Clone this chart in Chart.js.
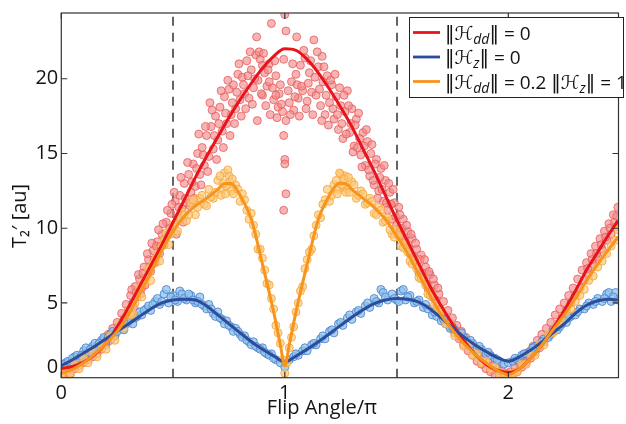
<!DOCTYPE html>
<html>
<head>
<meta charset="utf-8">
<script src="https://cdn.jsdelivr.net/npm/chart.js@4.4.1/dist/chart.umd.min.js"></script>
<style>
  html, body { margin: 0; padding: 0; background: #fff; }
  #wrap { width: 626px; height: 424px; }
</style>
</head>
<body>
<div id="wrap"><canvas id="t2Chart" width="626" height="424"></canvas></div>
<script>
// Axis ticks and the dashed guides at half-pi flips
const xTicks = [0, 1, 2];
const yTicks = [0, 5, 10, 15, 20];
const guideLines = [0.5, 1.5];

// Measured T2' for each case, [flip angle / pi, T2']
const redPoints = [
  [0.01,0.3],[0.02,0.9],[0.03,0.5],[0.04,0.2],[0.05,1.0],[0.06,0.6],[0.07,1.2],[0.08,0.8],[0.09,1.4],[0.10,1.0],
  [0.11,1.5],[0.12,1.2],[0.13,1.8],[0.14,1.4],[0.15,2.0],[0.16,1.6],[0.17,2.3],[0.18,1.9],[0.19,2.6],[0.20,2.2],
  [0.21,2.9],[0.22,2.5],[0.23,3.3],[0.24,2.8],[0.25,3.7],[0.26,3.4],[0.27,4.3],[0.28,3.9],[0.29,4.9],[0.30,4.5],
  [0.31,5.5],[0.32,5.0],[0.33,6.1],[0.34,5.4],[0.35,6.6],[0.36,6.0],[0.37,7.4],[0.38,6.7],[0.39,7.9],[0.40,7.1],
  [0.41,8.5],[0.42,7.7],[0.43,9.1],[0.44,8.3],[0.45,9.6],[0.46,8.9],[0.47,10.4],[0.48,9.6],[0.49,11.0],[0.50,10.1],
  [0.51,11.8],[0.52,10.6],[0.53,12.2],[0.54,11.3],[0.55,13.0],[0.56,11.7],[0.57,13.6],[0.58,12.4],[0.59,14.3],[0.60,12.8],
  [0.61,15.0],[0.62,13.6],[0.63,15.4],[0.64,14.2],[0.65,16.2],[0.66,14.8],[0.665,18.4],[0.67,16.8],[0.68,15.3],[0.69,17.5],
  [0.70,15.9],[0.71,18.1],[0.72,16.5],[0.73,18.8],[0.74,17.0],[0.75,19.3],[0.76,17.6],[0.77,19.6],[0.78,18.0],[0.79,20.3],
  [0.80,18.6],[0.81,20.1],[0.82,19.0],[0.83,21.2],[0.84,18.7],[0.85,20.6],[0.86,19.4],[0.87,21.6],[0.874,22.8],[0.877,17.2],
  [0.88,19.9],[0.89,21.3],[0.90,18.9],[0.91,20.4],[0.92,19.5],[0.93,21.0],[0.94,23.7],[0.95,18.6],[0.96,20.2],[0.97,18.1],
  [0.98,19.6],[1.0,24.3],[1.005,23.2],[0.995,21.3],[0.99,17.8],[1.005,17.2],[0.995,16.2],[1.0,14.6],[1.0,14.3],[1.005,12.3],
  [0.995,11.2],[1.02,18.4],[1.03,19.8],[1.04,17.9],[1.05,20.3],[1.053,22.8],[1.06,18.7],[1.07,20.9],[1.08,19.2],[1.09,21.4],
  [1.10,18.5],[1.11,20.4],[1.12,19.1],[1.13,22.6],[1.14,18.9],[1.15,20.8],[1.16,18.2],[1.167,21.5],[1.17,19.8],[1.18,17.6],
  [1.19,20.2],[1.20,18.4],[1.21,19.6],[1.22,17.3],[1.23,18.8],[1.24,16.6],[1.25,18.2],[1.26,16.0],[1.27,17.8],[1.28,19.2],
  [1.29,16.4],[1.30,18.0],[1.31,15.5],[1.32,17.3],[1.33,17.7],[1.34,14.9],[1.35,16.4],[1.36,14.2],[1.37,15.8],[1.38,13.5],
  [1.39,15.6],[1.40,12.9],[1.41,14.6],[1.42,12.5],[1.43,14.0],[1.44,11.8],[1.45,13.2],[1.46,11.2],[1.47,12.4],[1.48,10.6],
  [1.49,11.7],[1.50,10.2],[1.51,11.4],[1.52,9.5],[1.53,10.6],[1.54,9.0],[1.55,9.8],[1.56,8.3],[1.57,9.3],[1.58,7.8],
  [1.59,8.6],[1.60,7.0],[1.61,8.2],[1.62,6.6],[1.63,7.4],[1.64,6.0],[1.65,6.9],[1.66,5.4],[1.67,6.2],[1.68,4.8],
  [1.69,5.6],[1.70,4.3],[1.71,5.1],[1.72,3.9],[1.73,4.5],[1.74,3.4],[1.75,4.0],[1.76,3.0],[1.77,3.5],[1.78,2.6],
  [1.79,3.1],[1.80,2.2],[1.81,2.7],[1.82,1.8],[1.83,2.3],[1.84,1.5],[1.85,1.9],[1.86,1.1],[1.87,1.6],[1.88,0.9],
  [1.89,1.3],[1.90,0.6],[1.91,1.0],[1.92,0.4],[1.93,0.8],[1.94,0.2],[1.95,0.6],[1.96,0.1],[1.97,0.5],[1.98,0.0],
  [1.99,0.3],[2.00,-0.1],[2.01,0.4],[2.02,0.2],[2.03,0.7],[2.04,0.4],[2.05,1.0],[2.06,0.7],[2.07,1.3],[2.08,1.0],
  [2.09,1.7],[2.10,1.3],[2.11,2.1],[2.12,1.7],[2.13,2.5],[2.14,2.0],[2.15,2.9],[2.16,2.4],[2.17,3.3],[2.18,2.8],
  [2.19,3.7],[2.20,3.2],[2.21,4.2],[2.22,3.6],[2.23,4.6],[2.24,4.0],[2.25,5.0],[2.26,4.5],[2.27,5.5],[2.28,5.0],
  [2.29,6.0],[2.30,5.5],[2.31,6.6],[2.32,6.0],[2.33,7.2],[2.34,6.5],[2.35,7.7],[2.36,7.0],[2.37,8.3],[2.38,7.6],
  [2.39,8.8],[2.40,8.1],[2.41,9.3],[2.42,8.6],[2.43,9.8],[2.44,9.2],[2.45,10.3],[2.46,9.6],[2.47,10.9],[2.48,10.1],
  [2.49,11.4],
  // second pass over the broad part of the cloud
  [0.305,4.0],[0.315,5.9],[0.325,4.7],[0.335,5.7],[0.345,6.9],[0.355,5.6],[0.365,7.0],[0.375,6.2],[0.385,8.3],[0.395,7.4],
  [0.405,9.0],[0.415,7.9],[0.425,8.8],[0.435,9.9],[0.445,8.8],[0.455,10.3],[0.465,9.3],[0.475,11.2],[0.485,10.0],[0.495,11.6],
  [0.505,12.4],[0.515,9.6],[0.525,11.4],[0.535,13.4],[0.545,10.4],[0.555,12.0],[0.565,14.4],[0.575,11.5],[0.585,13.1],[0.595,12.0],
  [0.605,14.0],[0.615,16.3],[0.625,12.9],[0.635,14.9],[0.645,16.8],[0.655,13.8],[0.675,17.9],[0.685,16.2],[0.695,14.6],[0.705,17.0],
  [0.715,19.2],[0.725,15.4],[0.735,17.7],[0.745,19.9],[0.755,16.2],[0.765,18.4],[0.775,17.0],[0.785,19.1],[0.795,21.0],[0.805,17.5],
  [0.815,19.6],[0.825,18.0],[0.835,20.2],[0.845,21.8],[0.855,18.3],[0.865,20.0],[0.885,21.8],[0.895,19.0],[0.905,21.7],[0.915,18.2],
  [0.925,20.6],[0.935,17.6],[0.945,19.4],[0.955,21.2],[0.965,17.4],[0.975,19.0],[0.985,18.3],[0.93,19.8],[0.96,18.9],[0.90,20.9],
  [1.015,19.2],[1.025,17.6],[1.035,21.0],[1.045,18.8],[1.055,19.6],[1.065,17.5],[1.075,19.5],[1.085,21.9],[1.095,18.0],[1.105,19.7],
  [1.115,21.2],[1.125,17.6],[1.135,20.1],[1.145,21.8],[1.155,19.3],[1.165,17.2],[1.175,20.8],[1.185,18.9],[1.195,16.9],[1.205,19.9],
  [1.215,18.0],[1.225,20.3],[1.235,17.6],[1.245,19.4],[1.255,17.0],[1.265,18.9],[1.275,16.3],[1.285,18.2],[1.295,17.0],[1.305,15.1],
  [1.315,16.9],[1.325,15.4],[1.335,16.0],[1.345,14.1],[1.355,15.5],[1.365,16.6],[1.375,13.9],[1.385,15.0],[1.395,13.2],[1.405,14.3],
  [1.415,12.0],[1.425,13.4],[1.435,12.6],[1.445,14.2],[1.455,11.7],[1.465,13.0],[1.475,11.6],[1.485,12.6],[1.495,10.8],[1.505,9.6],
  [1.515,10.9],[1.525,10.0],[1.535,9.2],[1.545,10.2],[1.555,8.7],[1.565,9.6],[1.575,8.1],[1.585,9.0],[1.595,7.4],[1.605,7.9],
  [1.615,7.0],[1.625,7.9],[1.635,6.3],[1.645,7.1],[1.655,5.8],[1.665,6.6],[1.675,5.2],[1.685,6.0],[1.695,4.6],[2.355,7.3],
  [2.375,7.9],[2.395,8.3],[2.415,8.9],[2.435,9.4],[2.455,10.0],[2.475,10.4],[2.485,10.8]
];

const bluePoints = [
  [0.00,0.7],[0.02,1.0],[0.04,0.9],[0.06,1.4],[0.08,1.3],[0.10,1.8],[0.12,1.7],[0.14,2.1],[0.16,2.0],[0.18,2.5],
  [0.20,2.4],[0.22,2.9],[0.24,2.8],[0.26,3.3],[0.28,3.2],[0.30,3.7],[0.32,3.6],[0.34,4.1],[0.36,4.2],[0.38,4.6],
  [0.40,4.5],[0.42,5.1],[0.44,4.9],[0.46,5.6],[0.47,5.9],[0.48,5.0],[0.50,5.5],[0.52,5.1],[0.53,5.8],[0.54,5.6],
  [0.56,5.2],[0.58,5.5],[0.60,5.0],[0.62,5.4],[0.64,4.8],[0.66,4.9],[0.68,4.3],[0.70,4.4],[0.72,3.9],[0.74,3.8],
  [0.76,3.4],[0.78,3.3],[0.80,2.9],[0.82,2.8],[0.84,2.4],[0.86,2.4],[0.88,2.0],[0.90,2.0],[0.92,1.6],[0.94,1.6],
  [0.96,1.2],[0.98,1.0],[1.00,0.7],[1.02,1.2],[1.04,1.4],[1.06,1.5],[1.08,1.8],[1.10,1.8],[1.12,2.2],[1.14,2.2],
  [1.16,2.6],[1.18,2.6],[1.20,3.1],[1.22,3.0],[1.24,3.6],[1.26,3.5],[1.28,4.0],[1.30,3.9],[1.32,4.4],[1.34,4.3],
  [1.36,4.8],[1.38,4.7],[1.40,5.3],[1.42,5.0],[1.43,5.9],[1.44,5.7],[1.46,5.2],[1.48,5.6],[1.50,5.2],[1.52,5.8],
  [1.53,5.9],[1.54,5.2],[1.56,5.5],[1.58,5.0],[1.60,5.2],[1.62,4.7],[1.64,4.6],[1.66,4.2],[1.68,4.1],[1.70,3.8],
  [1.72,3.6],[1.74,3.3],[1.76,3.2],[1.78,2.8],[1.80,2.7],[1.82,2.4],[1.84,2.3],[1.86,1.9],[1.88,1.9],[1.90,1.6],
  [1.92,1.5],[1.94,1.3],[1.96,1.1],[1.98,0.9],[2.00,1.0],[2.02,1.1],[2.04,1.2],[2.06,1.5],[2.08,1.6],[2.10,1.8],
  [2.12,2.1],[2.14,2.2],[2.16,2.6],[2.18,2.7],[2.20,3.1],[2.22,3.2],[2.24,3.6],[2.26,3.7],[2.28,4.1],[2.30,4.2],
  [2.32,4.6],[2.34,4.6],[2.36,5.0],[2.38,4.9],[2.40,5.3],[2.42,5.1],[2.44,5.6],[2.45,5.7],[2.46,5.1],[2.48,5.7],
  [2.49,5.2],
  [0.01,0.9],[0.03,1.1],[0.05,1.3],[0.07,1.5],[0.09,1.5],[0.11,2.0],[0.13,1.9],[0.15,2.3],[0.17,2.3],[0.19,2.7],
  [0.21,2.7],[0.23,3.1],[0.25,3.1],[0.27,3.5],[0.29,3.6],[0.31,3.9],[0.33,4.0],[0.35,4.4],[0.37,4.5],[0.39,4.8],
  [0.41,4.9],[0.43,5.3],[0.45,5.1],[0.49,5.4],[0.51,5.2],[0.55,5.3],[0.57,5.6],[0.59,5.2],[0.61,5.1],[0.63,4.9],
  [0.65,4.6],[0.67,4.6],[0.69,4.1],[0.71,4.0],[0.73,3.6],[0.75,3.5],[0.77,3.1],[0.79,3.1],[0.81,2.7],[0.83,2.5],
  [0.85,2.2],[0.87,2.1],[0.89,1.9],[0.91,1.7],[0.93,1.5],[0.95,1.3],[1.05,1.6],[1.09,2.0],[1.13,2.3],[1.17,2.8],
  [1.21,3.2],[1.25,3.7],[1.29,4.2],[1.33,4.5],[1.37,5.0],[1.41,5.1],[1.45,5.4],[1.49,5.3],[1.51,5.1],[1.55,5.4],
  [1.59,5.1],[1.63,4.9],[1.67,4.4],[1.71,3.9],[1.75,3.4],[1.79,3.0],[1.83,2.5],[1.87,2.1],[1.91,1.7],[1.95,1.2],
  [2.03,1.3],[2.07,1.6],[2.11,2.0],[2.15,2.4],[2.19,2.9],[2.23,3.4],[2.27,4.0],[2.31,4.4],[2.35,4.8],[2.39,5.1],
  [2.43,5.3],[2.47,5.4]
];

const orangePoints = [
  [0.00,0.1],[0.02,0.5],[0.04,0.3],[0.06,0.9],[0.08,0.6],[0.10,1.3],[0.12,1.0],[0.14,1.7],[0.16,1.4],[0.18,2.2],
  [0.20,1.9],[0.22,2.8],[0.24,2.5],[0.26,3.5],[0.28,3.3],[0.30,4.5],[0.32,4.3],[0.34,5.6],[0.36,5.4],[0.38,6.7],
  [0.40,6.5],[0.42,7.9],[0.44,7.8],[0.46,9.2],[0.48,8.9],[0.50,10.2],[0.52,9.8],[0.54,11.1],[0.56,10.5],[0.58,11.7],
  [0.60,10.9],[0.62,12.0],[0.64,11.6],[0.66,12.6],[0.68,12.0],[0.70,13.2],[0.72,12.6],[0.73,13.7],[0.74,12.8],[0.75,13.5],
  [0.76,12.5],[0.78,12.9],[0.80,11.8],[0.82,11.9],[0.84,10.6],[0.86,10.2],[0.88,8.6],[0.90,8.0],[0.92,6.3],[0.94,5.3],
  [0.96,3.5],[0.98,2.3],[0.99,1.2],[1.00,0.3],[1.01,1.0],[1.02,2.0],[1.04,3.4],[1.06,5.0],[1.08,6.1],[1.10,7.9],
  [1.12,8.6],[1.14,10.2],[1.16,10.7],[1.18,11.9],[1.20,11.8],[1.22,12.9],[1.24,12.6],[1.25,13.6],[1.26,12.8],[1.27,13.5],
  [1.28,12.6],[1.30,13.1],[1.32,12.0],[1.34,12.5],[1.36,11.6],[1.38,12.0],[1.40,11.0],[1.42,11.4],[1.44,10.4],[1.46,10.7],
  [1.48,9.6],[1.50,9.9],[1.52,8.8],[1.54,9.0],[1.56,7.8],[1.58,7.9],[1.60,6.7],[1.62,6.7],[1.64,5.6],[1.66,5.6],
  [1.68,4.5],[1.70,4.5],[1.72,3.6],[1.74,3.6],[1.76,2.8],[1.78,2.8],[1.80,2.1],[1.82,2.2],[1.84,1.5],[1.86,1.6],
  [1.88,1.0],[1.90,1.1],[1.92,0.6],[1.94,0.7],[1.96,0.2],[1.98,0.3],[2.00,0.0],[2.02,0.3],[2.04,0.4],[2.06,0.9],
  [2.08,0.9],[2.10,1.5],[2.12,1.5],[2.14,2.2],[2.16,2.2],[2.18,2.9],[2.20,3.0],[2.22,3.6],[2.24,3.8],[2.26,4.4],
  [2.28,4.6],[2.30,5.1],[2.32,5.5],[2.34,5.9],[2.36,6.5],[2.38,6.8],[2.40,7.4],[2.42,7.8],[2.44,8.3],[2.46,8.8],
  [2.48,9.2],[2.49,9.9],
  [0.31,4.2],[0.33,5.0],[0.35,6.0],[0.37,6.3],[0.39,7.3],[0.41,7.6],[0.43,8.3],[0.45,8.8],[0.47,9.7],[0.49,9.6],
  [0.51,10.3],[0.53,10.7],[0.55,10.9],[0.57,10.9],[0.59,11.9],[0.61,11.4],[0.63,12.2],[0.65,11.5],[0.67,12.1],[0.69,12.4],
  [0.71,13.5],[0.715,12.2],[0.725,13.0],[0.735,12.3],[0.745,13.9],[0.755,13.1],[0.765,13.3],[0.77,12.3],[0.79,12.6],[0.81,12.3],
  [0.83,11.2],[0.85,11.0],[0.87,9.6],[0.89,8.6],[0.91,7.2],[0.93,6.2],[0.95,4.6],[0.97,3.0],[1.03,2.7],[1.05,4.4],
  [1.07,5.8],[1.09,7.3],[1.11,8.4],[1.13,9.5],[1.15,10.9],[1.17,11.6],[1.19,12.6],[1.21,12.2],[1.23,13.2],[1.235,12.3],
  [1.245,13.7],[1.255,12.9],[1.265,13.3],[1.275,12.4],[1.285,13.4],[1.29,12.4],[1.31,12.9],[1.33,12.2],[1.35,12.3],[1.37,11.7],
  [1.39,11.8],[1.41,10.9],[1.43,11.2],[1.45,10.5],[1.47,9.9],[1.49,9.4],[1.51,9.5],[1.53,8.7],[1.55,8.4],[1.57,7.6],
  [1.59,7.3],[1.61,6.6],[1.63,6.2],[1.65,5.5],[1.67,4.9],[1.69,4.4]
];

// Fitted curves
const fitX = [0,0.05,0.1,0.15,0.2,0.25,0.3,0.35,0.4,0.45,0.5,0.55,0.6,0.65,0.7,0.75,0.8,0.85,0.9,0.95,
  1,1.05,1.1,1.15,1.2,1.25,1.3,1.35,1.4,1.45,1.5,1.55,1.6,1.65,1.7,1.75,1.8,1.85,1.9,1.95,
  2,2.05,2.1,2.15,2.2,2.25,2.3,2.35,2.4,2.45,2.49];
const redFit = [0.6,0.75,1.05,1.55,2.3,3.4,4.7,6.1,7.5,8.9,10.4,11.9,13.4,14.8,16.1,17.4,18.6,19.7,20.7,21.5,
  22.0,21.9,21.3,20.4,19.3,18.1,16.8,15.3,13.8,12.2,10.6,9.1,7.6,6.1,4.8,3.6,2.5,1.6,0.9,0.5,
  0.35,0.6,1.3,2.2,3.3,4.5,5.8,7.2,8.4,9.6,10.5];
const blueFit = [0.8,1.2,1.65,2.1,2.6,3.1,3.6,4.1,4.6,5.0,5.2,5.25,5.2,4.8,4.2,3.6,3.0,2.4,1.9,1.45,
  1.05,1.45,1.9,2.4,2.95,3.5,4.05,4.55,4.95,5.2,5.3,5.25,5.05,4.6,4.0,3.35,2.75,2.2,1.75,1.35,
  1.1,1.4,1.85,2.4,3.0,3.6,4.3,4.85,5.15,5.25,5.2];
const orangeFitX = [0,0.05,0.1,0.15,0.2,0.25,0.3,0.35,0.4,0.45,0.5,0.55,0.6,0.65,0.7,0.73,0.76,0.8,0.85,0.9,
  0.95,0.98,1,1.02,1.05,1.1,1.15,1.2,1.24,1.27,1.3,1.35,1.4,1.45,1.5,1.55,1.6,1.65,1.7,1.75,
  1.8,1.85,1.9,1.95,2,2.05,2.1,2.15,2.2,2.25,2.3,2.35,2.4,2.45,2.49];
const orangeFit = [0.3,0.55,1.0,1.6,2.3,3.1,4.2,5.6,7.0,8.5,9.8,10.8,11.5,12.0,12.6,13.0,13.0,12.2,10.6,7.6,
  4.4,2.2,0.8,2.2,4.4,7.6,10.6,12.2,13.0,13.0,12.6,12.0,11.4,10.6,9.5,8.3,6.9,5.5,4.2,3.2,
  2.3,1.6,1.0,0.5,0.2,0.6,1.3,2.2,3.2,4.2,5.3,6.5,7.6,8.6,9.4];

const seriesColors = ['#e8141c', '#2c4c9c', '#f7941d'];
// legend text pieces: [text, 'n' normal | 's' italic subscript]
const seriesLabels = [
  [['‖ℋ', 'n'], ['dd', 's'], ['‖ = 0', 'n']],
  [['‖ℋ', 'n'], ['z', 's'], ['‖ = 0', 'n']],
  [['‖ℋ', 'n'], ['dd', 's'], ['‖ = 0.2 ‖ℋ', 'n'], ['z', 's'], ['‖ = 1', 'n']]
];

const FONT = '"Open Sans", "DejaVu Sans", sans-serif';
const INK = '#141414';

const toXY = (pts) => pts.map(([x, y]) => ({ x, y }));
const zipXY = (xs, ys) => xs.map((x, i) => ({ x, y: ys[i] }));

function fitSet(data, color) {
  return {
    type: 'line', data, showLine: true, borderColor: color, borderWidth: 3,
    pointRadius: 0, cubicInterpolationMode: 'monotone', fill: false
  };
}
function dotSet(data, fill, edge) {
  return {
    type: 'scatter', data, pointRadius: 4, pointBorderWidth: 1,
    backgroundColor: fill, borderColor: edge, showLine: false
  };
}

const decor = {
  id: 'decor',
  beforeDatasetsDraw(chart) {
    const { ctx, chartArea: a, scales: { x } } = chart;
    ctx.save();
    ctx.strokeStyle = '#333';
    ctx.lineWidth = 1.5;
    ctx.setLineDash([9, 7]);
    guideLines.forEach((v) => {
      const px = Math.round(x.getPixelForValue(v));
      ctx.beginPath();
      ctx.moveTo(px, a.bottom);
      ctx.lineTo(px, a.top);
      ctx.stroke();
    });
    ctx.restore();
  },
  afterDraw(chart) {
    const { ctx, chartArea: a, scales: { x, y } } = chart;
    ctx.save();
    // box + inward ticks
    ctx.strokeStyle = '#333';
    ctx.lineWidth = 1.2;
    ctx.strokeRect(a.left, a.top, a.right - a.left, a.bottom - a.top);
    ctx.beginPath();
    xTicks.forEach((v) => {
      const px = x.getPixelForValue(v);
      ctx.moveTo(px, a.bottom); ctx.lineTo(px, a.bottom - 6);
      ctx.moveTo(px, a.top); ctx.lineTo(px, a.top + 6);
    });
    yTicks.slice(1).forEach((v) => {
      const py = y.getPixelForValue(v);
      ctx.moveTo(a.left, py); ctx.lineTo(a.left + 6, py);
      ctx.moveTo(a.right, py); ctx.lineTo(a.right - 6, py);
    });
    ctx.stroke();

    // axis titles
    ctx.fillStyle = INK;
    ctx.font = '20px ' + FONT;
    ctx.textAlign = 'center';
    ctx.textBaseline = 'middle';
    ctx.fillText('Flip Angle/π', 322, 408);
    ctx.save();
    ctx.translate(20, 216);
    ctx.rotate(-Math.PI / 2);
    ctx.fillText('T₂′ [au]', 0, 0);
    ctx.restore();

    // legend
    const bx = 409, by = 17, bw = 214, bh = 80;
    ctx.fillStyle = '#fff';
    ctx.fillRect(bx, by, bw, bh);
    ctx.strokeStyle = '#222';
    ctx.lineWidth = 1;
    ctx.strokeRect(bx + 0.5, by + 0.5, bw, bh);
    ctx.textAlign = 'left';
    ctx.textBaseline = 'alphabetic';
    seriesLabels.forEach((parts, i) => {
      const rowY = by + 15.5 + i * 24.5;
      ctx.strokeStyle = seriesColors[i];
      ctx.lineWidth = 2.8;
      ctx.beginPath();
      ctx.moveTo(413, rowY);
      ctx.lineTo(440, rowY);
      ctx.stroke();
      let tx = 445;
      const base = rowY + 7;
      ctx.fillStyle = INK;
      parts.forEach(([txt, kind]) => {
        if (kind === 's') {
          ctx.font = 'italic 14px ' + FONT;
          ctx.fillText(txt, tx, base + 4);
        } else {
          ctx.font = '19px ' + FONT;
          ctx.fillText(txt, tx, base);
        }
        tx += ctx.measureText(txt).width;
      });
    });
    ctx.restore();
  }
};

new Chart(document.getElementById('t2Chart'), {
  data: {
    datasets: [
      fitSet(zipXY(orangeFitX, orangeFit), seriesColors[2]),
      fitSet(zipXY(fitX, blueFit), seriesColors[1]),
      fitSet(zipXY(fitX, redFit), seriesColors[0]),
      dotSet(toXY(orangePoints), 'rgba(252,200,120,0.7)', 'rgba(245,168,60,0.85)'),
      dotSet(toXY(bluePoints), 'rgba(140,196,238,0.75)', 'rgba(80,128,205,0.85)'),
      dotSet(toXY(redPoints), 'rgba(242,140,140,0.65)', 'rgba(230,85,85,0.75)')
    ]
  },
  options: {
    responsive: false,
    animation: false,
    devicePixelRatio: 1,
    layout: { padding: { top: 6, right: 7.5, left: 0, bottom: 0 } },
    plugins: { legend: { display: false }, tooltip: { enabled: false } },
    scales: {
      x: {
        type: 'linear', min: 0, max: 2.493,
        grid: { display: false, drawTicks: false },
        border: { display: false },
        afterBuildTicks: (s) => { s.ticks = xTicks.map((v) => ({ value: v })); },
        afterFit: (s) => { s.height = 46.3; },
        ticks: { padding: 4, color: INK, font: { family: FONT, size: 20 } }
      },
      y: {
        type: 'linear', min: 0, max: 24.4,
        grid: { display: false, drawTicks: false },
        border: { display: false },
        afterBuildTicks: (s) => { s.ticks = yTicks.map((v) => ({ value: v })); },
        afterFit: (s) => { s.width = 61.3; },
        ticks: {
          padding: 3, color: INK, font: { family: FONT, size: 20, lineHeight: 1.0 },
          // the zero label sits a little above the axis line
          callback: (v) => (v === 0 ? ['0', ''] : String(v))
        }
      }
    }
  },
  plugins: [decor]
});
</script>
</body>
</html>
